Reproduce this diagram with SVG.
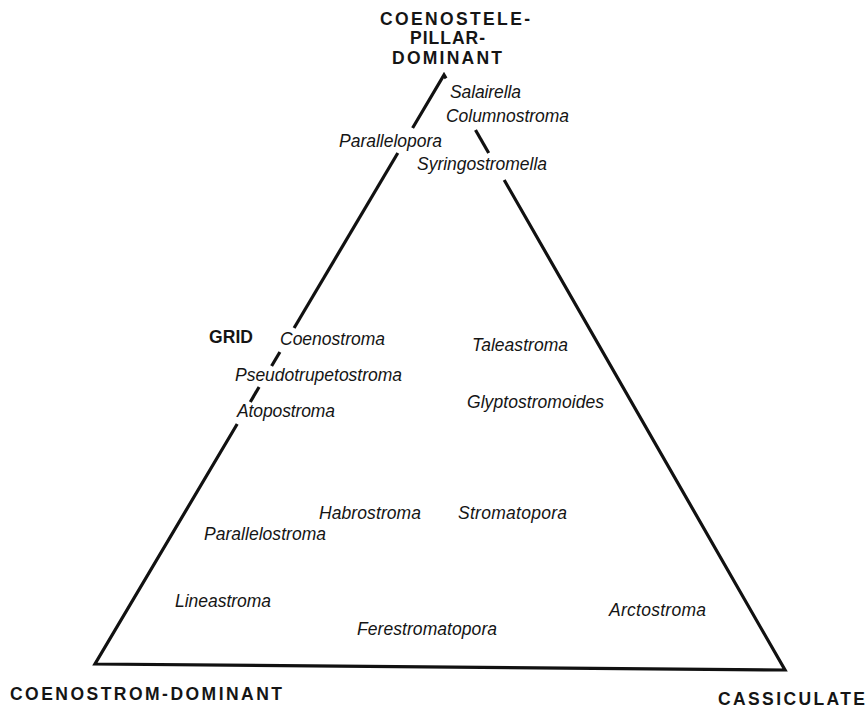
<svg xmlns="http://www.w3.org/2000/svg" width="866" height="708" viewBox="0 0 866 708">
<style>
.edge{fill:none;stroke:#111;stroke-width:3.2;stroke-linejoin:miter}
.g{font-family:"Liberation Sans",Arial,Helvetica,sans-serif;font-style:italic;font-size:17.5px;fill:#151515}
.b{font-family:"Liberation Sans",Arial,Helvetica,sans-serif;font-weight:bold;font-size:17.5px;fill:#151515}
</style>
<rect width="866" height="708" fill="#ffffff"/>
<g id="connectors">
<path class="edge" d="M412.6,128 L444,75 L446,78.4"/>
<path class="edge" d="M397.8,153 L294.1,328"/>
<path class="edge" d="M279.9,352 L271.6,366"/>
<path class="edge" d="M259.1,387 L250.3,402"/>
<path class="edge" d="M237.2,424 L95,664 L785,670 L504.2,180"/>
<path class="edge" d="M475.5,130 L488.7,153"/>
</g>
<g id="vertex-top"><text class="b" x="380" y="25" textLength="150" lengthAdjust="spacing">COENOSTELE-</text><text class="b" x="410" y="44" textLength="75" lengthAdjust="spacing">PILLAR-</text><text class="b" x="392" y="64" textLength="110" lengthAdjust="spacing">DOMINANT</text></g>
<g id="vertex-left"><text class="b" x="10" y="700" textLength="272" lengthAdjust="spacing">COENOSTROM-DOMINANT</text></g>
<g id="vertex-right"><text class="b" x="718" y="705" textLength="147" lengthAdjust="spacing">CASSICULATE</text></g>
<g id="grid"><text class="b" x="209" y="343" textLength="44" lengthAdjust="spacing">GRID</text></g>
<g id="salairella"><text class="g" x="450" y="98" textLength="71" lengthAdjust="spacing">Salairella</text></g>
<g id="columnostroma"><text class="g" x="446" y="122" textLength="123" lengthAdjust="spacing">Columnostroma</text></g>
<g id="parallelopora"><text class="g" x="339" y="147" textLength="103" lengthAdjust="spacing">Parallelopora</text></g>
<g id="syringostromella"><text class="g" x="417" y="170" textLength="130" lengthAdjust="spacing">Syringostromella</text></g>
<g id="coenostroma"><text class="g" x="280" y="345" textLength="105" lengthAdjust="spacing">Coenostroma</text></g>
<g id="pseudotrupetostroma"><text class="g" x="235" y="381" textLength="167" lengthAdjust="spacing">Pseudotrupetostroma</text></g>
<g id="atopostroma"><text class="g" x="237" y="417" textLength="98" lengthAdjust="spacing">Atopostroma</text></g>
<g id="taleastroma"><text class="g" x="472" y="351" textLength="96" lengthAdjust="spacing">Taleastroma</text></g>
<g id="glyptostromoides"><text class="g" x="467" y="408" textLength="137" lengthAdjust="spacing">Glyptostromoides</text></g>
<g id="habrostroma"><text class="g" x="319" y="519" textLength="102" lengthAdjust="spacing">Habrostroma</text></g>
<g id="stromatopora"><text class="g" x="458" y="519" textLength="109" lengthAdjust="spacing">Stromatopora</text></g>
<g id="parallelostroma"><text class="g" x="204" y="540" textLength="122" lengthAdjust="spacing">Parallelostroma</text></g>
<g id="lineastroma"><text class="g" x="175" y="607" textLength="96" lengthAdjust="spacing">Lineastroma</text></g>
<g id="ferestromatopora"><text class="g" x="357" y="635" textLength="140" lengthAdjust="spacing">Ferestromatopora</text></g>
<g id="arctostroma"><text class="g" x="609" y="616" textLength="97" lengthAdjust="spacing">Arctostroma</text></g>
</svg>
